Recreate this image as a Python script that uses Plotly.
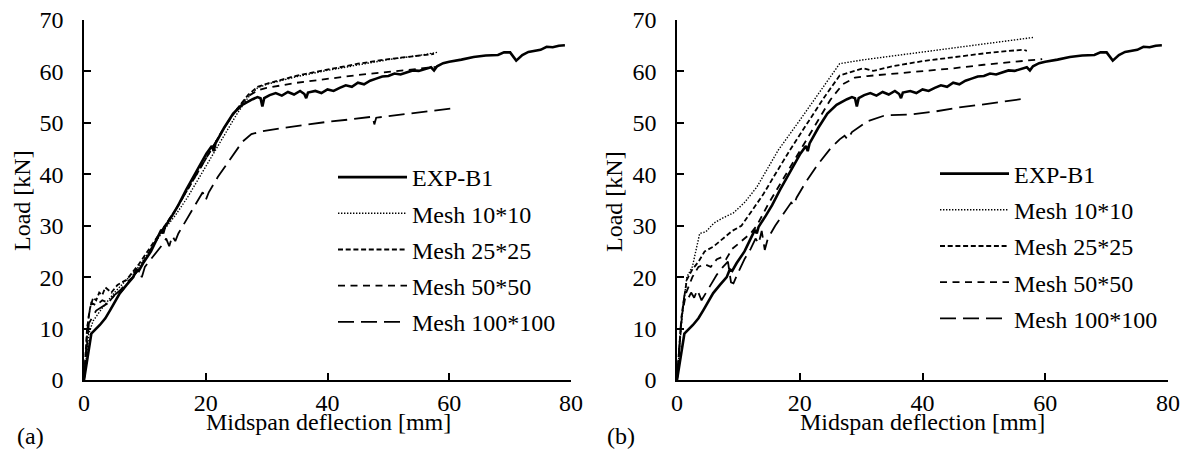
import plotly.graph_objects as go

# ---------------- data ----------------
series_names = ["EXP-B1", "Mesh 10*10", "Mesh 25*25", "Mesh 50*50", "Mesh 100*100"]
x_ticks = [0, 20, 40, 60, 80]
y_ticks = [0, 10, 20, 30, 40, 50, 60, 70]

exp_x = [0, 0.5, 1.2, 2.6, 3.5, 4.3, 5.0, 5.9, 7, 8.1, 8.6, 9.0, 9.7, 11, 12, 12.7, 13.0, 13.3,
         14.5, 15.5, 16.8, 18, 19, 20.1, 21, 21.3, 21.6, 23, 24.5, 26, 27.7, 28.5, 29.0, 29.3,
         29.6, 30.5, 31.5, 32.5, 33.5, 34.5, 35.5, 36.2, 36.5, 36.8, 38, 39, 40, 41, 42, 43, 44,
         45, 46, 47, 48, 49, 50, 51, 52, 53, 54, 55, 56, 57, 57.5, 58, 59, 60, 62, 64, 66, 68,
         69, 70, 71, 72, 73, 75, 76, 77, 78, 79]
exp_y = [0, 4, 9, 10.7, 12, 13.6, 15, 16.9, 18.5, 20, 21.5, 21.2, 22.7, 25, 27.5, 29.2, 28.5, 29.8,
         32, 34, 37, 39.5, 41.5, 44, 45.5, 44.5, 46, 49, 51.8, 53.5, 54.6, 55, 54.8, 53.2,
         54.8, 55.4, 55.8, 55.3, 56.0, 55.5, 56.2, 55.6, 54.8, 55.9, 56.2, 55.8, 56.5, 56.2, 56.8, 57.3, 57,
         57.8, 57.5, 58.2, 58.6, 59, 59.1, 59.6, 59.4, 59.8, 60.2, 60.1, 60.5, 60.8, 60.2, 61, 61.6, 61.9, 62.3, 62.8, 63.1, 63.2,
         63.7, 63.7, 62.1, 63.2, 63.8, 64.2, 64.8, 64.7, 65.0, 65.1]

# panel (a)
a10_x = [0, 0.8, 1.5, 3, 5, 7, 9, 11, 13, 15, 17, 19, 21, 23, 25, 27, 28.5, 30, 35, 40, 45, 50, 55, 58]
a10_y = [0, 9, 11.5, 14, 17, 19.5, 22, 25.5, 29, 32, 35.5, 39.5, 43.5, 47.5, 51.5, 55, 56.8, 57.5, 59, 60.2, 61.3, 62.3, 63.1, 63.7]
a25_x = [0, 0.5, 1, 1.5, 2, 2.5, 3, 3.5, 4.5, 5.5, 7, 9, 11, 13, 15, 17, 19, 21, 23, 25, 27, 28.5, 30, 35, 40, 45, 50, 55, 57.5]
a25_y = [0, 10, 14, 16, 15.5, 17, 16.5, 18, 17, 18.5, 19.5, 22.5, 26, 29.5, 33, 37, 41, 45, 49, 52.5, 55.5, 57, 57.6, 59.2, 60.4, 61.5, 62.4, 63, 63.4]
a50_x = [0, 0.7, 1.2, 2, 3, 4, 5, 6, 7, 8, 9, 11, 13, 15, 17, 19, 21, 23, 25, 27, 28.5, 30, 35, 40, 45, 50, 55, 58]
a50_y = [0, 12, 15, 14.5, 15.5, 15, 16.5, 17, 18.5, 20, 21.5, 25.5, 29.5, 33, 37, 41, 45, 49, 52.5, 55.2, 56.3, 56.8, 57.8, 58.6, 59.3, 59.9, 60.5, 60.9]
a100_x = [0, 0.8, 2, 4, 5, 6, 7, 8, 9, 9.5, 10, 11, 12, 13, 13.5, 14, 14.5, 15, 15.5, 17, 18, 19, 19.5, 20, 20.5,
          22, 24, 26, 27.5, 29, 32, 36, 40, 44, 47.4, 47.7, 48, 52, 56, 60.5]
a100_y = [0, 11, 13.5, 15, 16.5, 17.5, 19, 20, 21.5, 20, 22, 23.5, 25, 26.5, 27.5, 26, 28, 27, 28.5, 31.5, 33.5, 35.5, 36.5, 35, 36.5,
          39.5, 43, 46.3, 47.8, 48.3, 48.9, 49.6, 50.2, 50.7, 51.2, 49.7, 51, 51.6, 52.2, 52.8]

# panel (b)
b10_x = [0, 0.8, 1.6, 2.5, 3.7, 4.7, 6, 7.3, 9.2, 11, 13, 16.5, 20, 23, 26.5, 30, 35, 40, 45, 50, 55, 58]
b10_y = [0, 12, 20, 22, 28.5, 28.8, 30.5, 31.4, 32.5, 34.5, 37.5, 44.7, 50.5, 55.5, 61.5, 62.2, 63, 63.8, 64.6, 65.4, 66.1, 66.6]
b25_x = [0, 0.8, 1.6, 2.5, 3.5, 4.5, 6, 7, 8, 9, 10.5, 12, 14, 16, 18.4, 21, 24, 26.5, 28.5, 30.3, 32, 35, 40, 45, 50, 54, 56.5, 57]
b25_y = [0, 13, 19.5, 21.5, 23, 25, 26, 27, 28, 29, 30, 32.5, 36, 40, 44.7, 49.5, 55, 59.2, 60, 60.6, 60.1, 61, 62, 62.8, 63.5, 64, 64.2, 64]
b50_x = [0, 0.7, 1.5, 2.5, 3.5, 4.5, 5.5, 6.5, 7.5, 8, 9, 11, 12, 13, 15, 17, 19, 21, 23, 25, 27, 29, 31, 35, 40, 45, 50, 55, 59.5]
b50_y = [0, 12, 17, 20, 22, 22.5, 22, 23.5, 24, 23.5, 25.5, 27.5, 28.5, 30, 34.5, 38.5, 42.5, 46.5, 50.5, 54.5, 57.5, 58.8, 59.1, 59.5, 60, 60.6, 61.3, 61.9, 62.4]
b100_x = [0, 0.6, 1.2, 1.8, 2.3, 2.8, 3.3, 4, 4.5, 5.5, 6.5, 7.5, 8.3, 8.8, 9.2, 10, 11, 12, 12.8, 13.3, 13.8, 14.3, 14.8,
          16, 17.5, 18.6, 19, 19.5, 21, 23, 25, 26.5, 27.3, 27.8, 28.5, 31, 34, 38, 42, 46, 50, 53, 56]
b100_y = [0, 10, 16.5, 15.8, 17, 16, 17.5, 15.5, 16.5, 18.5, 20.5, 22, 23, 19, 18.8, 21, 23.5, 25.5, 27.5, 26.5, 29, 25.3, 27.5,
          30, 32.5, 34.5, 34, 35.5, 38.5, 42, 45, 46.8, 47.5, 46.8, 48.2, 50.3, 51.5, 51.6, 52.2, 53, 53.6, 54.1, 54.6]

panel_a = [(exp_x, exp_y), (a10_x, a10_y), (a25_x, a25_y), (a50_x, a50_y), (a100_x, a100_y)]
panel_b = [(exp_x, exp_y), (b10_x, b10_y), (b25_x, b25_y), (b50_x, b50_y), (b100_x, b100_y)]

# ---------------- styles ----------------
styles = [
    dict(color="black", width=2.6, dash="solid"),
    dict(color="black", width=1.4, dash="1.4px,1.6px"),
    dict(color="black", width=1.8, dash="5px,2.7px"),
    dict(color="black", width=1.8, dash="7px,5.5px"),
    dict(color="black", width=1.8, dash="16px,7px"),
]

FONT = "Liberation Serif, Times New Roman, serif"
FS = 24
W, H = 1187, 454

fig = go.Figure()
for panel, (xa, ya, leg) in zip([panel_a, panel_b], [("x", "y", "legend"), ("x2", "y2", "legend2")]):
    for i, ((xs, ys), name) in enumerate(zip(panel, series_names)):
        fig.add_trace(go.Scatter(
            x=xs, y=ys, name=name, mode="lines", line=styles[i],
            xaxis=xa, yaxis=ya, legend=leg, legendgroup=f"{leg}_{i}",
            hoverinfo="skip",
        ))

def px_x(p):
    return p / W

def px_y(p):
    return (H - p) / H

axis_common = dict(
    showline=True, linecolor="black", linewidth=1.5,
    ticks="inside", ticklen=7, tickwidth=1.5, tickcolor="black",
    showgrid=False, zeroline=False,
    tickfont=dict(family=FONT, size=FS, color="black"),
    automargin=False,
)

ydom = [px_y(380), px_y(20)]
fig.update_layout(
    width=W, height=H,
    margin=dict(l=0, r=0, t=0, b=0),
    paper_bgcolor="white", plot_bgcolor="white",
    font=dict(family=FONT, size=FS, color="black"),
    showlegend=True,
    xaxis=dict(domain=[px_x(84), px_x(571)], range=[0, 80], tickvals=x_ticks, anchor="y",
               ticklabelstandoff=0, **axis_common),
    yaxis=dict(domain=ydom, range=[0, 70], tickvals=y_ticks, anchor="x",
               ticklabelstandoff=14, **axis_common),
    xaxis2=dict(domain=[px_x(677), px_x(1168)], range=[0, 80], tickvals=x_ticks, anchor="y2",
                ticklabelstandoff=0, **axis_common),
    yaxis2=dict(domain=ydom, range=[0, 70], tickvals=y_ticks, anchor="x2",
                ticklabelstandoff=14, **axis_common),
    legend=dict(x=px_x(333), y=px_y(155), xanchor="left", yanchor="top",
                bgcolor="rgba(0,0,0,0)", borderwidth=0, itemwidth=69,
                tracegroupgap=2, traceorder="grouped",
                font=dict(family=FONT, size=FS, color="black")),
    legend2=dict(x=px_x(935), y=px_y(151.5), xanchor="left", yanchor="top",
                 bgcolor="rgba(0,0,0,0)", borderwidth=0, itemwidth=69,
                 tracegroupgap=2, traceorder="grouped",
                 font=dict(family=FONT, size=FS, color="black")),
)

annotations = [
    dict(text="Midspan deflection [mm]", x=px_x(328), y=px_y(422)),
    dict(text="Midspan deflection [mm]", x=px_x(922), y=px_y(422)),
    dict(text="Load [kN]", x=px_x(22), y=px_y(201), textangle=-90),
    dict(text="Load [kN]", x=px_x(614), y=px_y(201), textangle=-90),
    dict(text="(a)", x=px_x(30), y=px_y(436)),
    dict(text="(b)", x=px_x(621), y=px_y(436)),
]
for a in annotations:
    fig.add_annotation(xref="paper", yref="paper", xanchor="center", yanchor="middle",
                       showarrow=False, font=dict(family=FONT, size=FS, color="black"), **a)

fig.write_html("out.html", config={"displayModeBar": False},
               post_script="document.body.style.margin='0';")
